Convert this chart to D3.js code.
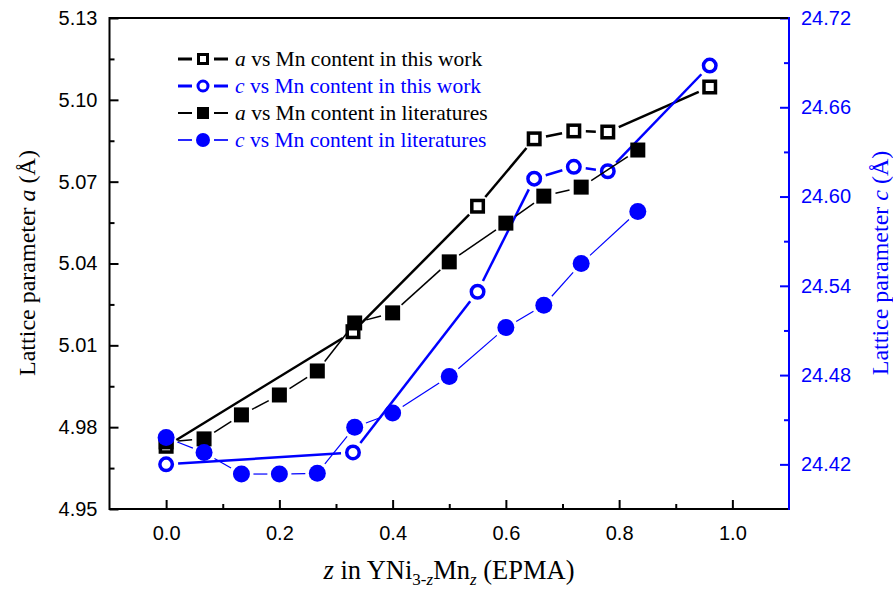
<!DOCTYPE html>
<html><head><meta charset="utf-8">
<script src="https://cdn.jsdelivr.net/npm/d3@7"></script>
<style>body{margin:0;background:#fff}svg{display:block}</style>
</head><body>
<script>
// ---- data ----
const zWork = [0, 0.33, 0.55, 0.65, 0.72, 0.78, 0.96];
const aWork = [4.973, 5.015, 5.061, 5.0857, 5.0886, 5.0882, 5.1047];
const cWork = [24.420, 24.428, 24.536, 24.612, 24.620, 24.617, 24.688];
const zLit = [0, 0.067, 0.133, 0.2, 0.267, 0.333, 0.4, 0.5, 0.6, 0.667, 0.733, 0.833];
const aLit = [4.9746, 4.9757, 4.9845, 4.9918, 5.0006, 5.0182, 5.0219, 5.0406, 5.0548, 5.0647, 5.068, 5.0816];
const cLit = [24.438, 24.428, 24.4135, 24.4135, 24.414, 24.445, 24.4545, 24.479, 24.512, 24.527, 24.555, 24.590];
const xTicks = [0.0, 0.2, 0.4, 0.6, 0.8, 1.0];
const xMinor = [0.1, 0.3, 0.5, 0.7, 0.9];
const aTicks = [4.95, 4.98, 5.01, 5.04, 5.07, 5.10, 5.13];
const aMinor = [4.965, 4.995, 5.025, 5.055, 5.085, 5.115];
const cTicks = [24.42, 24.48, 24.54, 24.60, 24.66, 24.72];
const cMinor = [24.45, 24.51, 24.57, 24.63, 24.69];
const legendLabels = ["vs Mn content in this work", "vs Mn content in this work", "vs Mn content in literatures", "vs Mn content in literatures"];
const legendVars = ["a", "c", "a", "c"];

const W = 893, H = 591;
const L = 109.5, R = 789, T = 18, B = 509;
const BLUE = "#0000ff";
const svg = d3.select("body").append("svg").attr("width", W).attr("height", H);

const x = d3.scaleLinear().domain([-0.1, 1.1]).range([L, R]);
const ya = d3.scaleLinear().domain([4.95, 5.13]).range([B, T]);
const yc = d3.scaleLinear().domain([24.39, 24.72]).range([B, T]);

function styleAxis(g, color, fontSize) {
  g.select(".domain").remove();
  g.selectAll(".tick line").attr("stroke", color).attr("stroke-width", 2);
  g.selectAll(".tick text").attr("fill", color).attr("font-family", "Liberation Sans, Arial, sans-serif").attr("font-size", fontSize);
}
function minorAxis(g, color) {
  g.select(".domain").remove();
  g.selectAll("line").attr("stroke", color).attr("stroke-width", 2);
}
// bottom axis
const xAxisG = svg.append("g").attr("transform", `translate(0,${B})`)
  .call(d3.axisBottom(x).tickValues(xTicks).tickFormat(d3.format(".1f")).tickSizeInner(-9).tickSizeOuter(0).tickPadding(17));
styleAxis(xAxisG, "#000", "20px");
svg.append("g").attr("transform", `translate(0,${B})`)
  .call(d3.axisBottom(x).tickValues(xMinor).tickFormat("").tickSizeInner(-5).tickSizeOuter(0))
  .call(g => minorAxis(g, "#000"));

// left axis
const aAxisG = svg.append("g").attr("transform", `translate(${L},0)`)
  .call(d3.axisLeft(ya).tickValues(aTicks).tickFormat(d3.format(".2f")).tickSizeInner(-9).tickSizeOuter(0).tickPadding(12));
styleAxis(aAxisG, "#000", "20px");
svg.append("g").attr("transform", `translate(${L},0)`)
  .call(d3.axisLeft(ya).tickValues(aMinor).tickFormat("").tickSizeInner(-5).tickSizeOuter(0))
  .call(g => minorAxis(g, "#000"));

// right axis
const cAxisG = svg.append("g").attr("transform", `translate(${R},0)`)
  .call(d3.axisRight(yc).tickValues(cTicks).tickFormat(d3.format(".2f")).tickSizeInner(-9).tickSizeOuter(0).tickPadding(12));
styleAxis(cAxisG, BLUE, "20px");
svg.append("g").attr("transform", `translate(${R},0)`)
  .call(d3.axisRight(yc).tickValues(cMinor).tickFormat("").tickSizeInner(-5).tickSizeOuter(0))
  .call(g => minorAxis(g, BLUE));

// frame lines
svg.append("line").attr("x1", L).attr("x2", R).attr("y1", T).attr("y2", T).attr("stroke", "#000").attr("stroke-width", 2);
svg.append("line").attr("x1", L).attr("x2", R).attr("y1", B).attr("y2", B).attr("stroke", "#000").attr("stroke-width", 2);
svg.append("line").attr("x1", L).attr("x2", L).attr("y1", T - 1).attr("y2", B + 1).attr("stroke", "#000").attr("stroke-width", 2);
svg.append("line").attr("x1", R).attr("x2", R).attr("y1", T - 1).attr("y2", B + 1).attr("stroke", BLUE).attr("stroke-width", 2);

function gappedLine(pts, color, width, gap) {
  const g = svg.append("g");
  for (let i = 0; i < pts.length - 1; i++) {
    const [x1, y1] = pts[i], [x2, y2] = pts[i + 1];
    const dx = x2 - x1, dy = y2 - y1, len = Math.hypot(dx, dy);
    if (len <= 2 * gap) continue;
    const ux = dx / len, uy = dy / len;
    g.append("line").attr("x1", x1 + ux * gap).attr("y1", y1 + uy * gap)
      .attr("x2", x2 - ux * gap).attr("y2", y2 - uy * gap)
      .attr("stroke", color).attr("stroke-width", width);
  }
}
function square(g, cx, cy, s, filled, color, sw) {
  const inner = filled ? s : s - sw;
  g.append("rect").attr("x", cx - inner / 2).attr("y", cy - inner / 2).attr("width", inner).attr("height", inner)
    .attr("fill", filled ? color : "#fff").attr("stroke", filled ? "none" : color).attr("stroke-width", filled ? 0 : sw);
}
function circle(g, cx, cy, d, filled, color, sw) {
  const r = filled ? d / 2 : (d - sw) / 2;
  g.append("circle").attr("cx", cx).attr("cy", cy).attr("r", r)
    .attr("fill", filled ? color : "#fff").attr("stroke", filled ? "none" : color).attr("stroke-width", filled ? 0 : sw);
}

const pAW = zWork.map((z, i) => [x(z), ya(aWork[i])]);
const pCW = zWork.map((z, i) => [x(z), yc(cWork[i])]);
const pAL = zLit.map((z, i) => [x(z), ya(aLit[i])]);
const pCL = zLit.map((z, i) => [x(z), yc(cLit[i])]);

gappedLine(pAW, "#000", 2.5, 12);
const g1 = svg.append("g");
pAW.forEach(p => square(g1, p[0], p[1], 15, false, "#000", 3.5));
gappedLine(pCW, BLUE, 2.5, 12);
const g2 = svg.append("g");
pCW.forEach(p => circle(g2, p[0], p[1], 16, false, BLUE, 3.5));
gappedLine(pAL, "#000", 1.5, 12);
const g3 = svg.append("g");
pAL.forEach(p => square(g3, p[0], p[1], 15, true, "#000", 0));
gappedLine(pCL, BLUE, 1.2, 12);
const g4 = svg.append("g");
pCL.forEach(p => circle(g4, p[0], p[1], 17, true, BLUE, 0));

// legend
const legY = [59, 86, 113, 140];
const legColors = ["#000", BLUE, "#000", BLUE];
const legW = [2.5, 2.5, 1.5, 1.2];
const lg = svg.append("g");
legY.forEach((yy, i) => {
  const c = legColors[i];
  lg.append("line").attr("x1", 178).attr("x2", 192).attr("y1", yy).attr("y2", yy).attr("stroke", c).attr("stroke-width", legW[i] + 0.5);
  lg.append("line").attr("x1", 214).attr("x2", 228).attr("y1", yy).attr("y2", yy).attr("stroke", c).attr("stroke-width", legW[i] + 0.5);
  if (i === 0) square(lg, 203, yy, 12, false, c, 3);
  if (i === 1) circle(lg, 203, yy, 13, false, c, 3);
  if (i === 2) square(lg, 203, yy, 12, true, c, 0);
  if (i === 3) circle(lg, 203, yy, 14, true, c, 0);
  const t = lg.append("text").attr("x", 235).attr("y", yy + 7).attr("fill", c)
    .attr("font-family", "Liberation Serif, Times New Roman, serif").attr("font-size", "21.5px");
  t.append("tspan").attr("font-style", "italic").text(legendVars[i]);
  t.append("tspan").text(" " + legendLabels[i]);
});

// axis titles
const serif = "Liberation Serif, Times New Roman, serif";
const lt = svg.append("text").attr("transform", "translate(35,263) rotate(-90)").attr("text-anchor", "middle")
  .attr("font-family", serif).attr("font-size", "24px").attr("fill", "#000");
lt.append("tspan").text("Lattice parameter ");
lt.append("tspan").attr("font-style", "italic").text("a");
lt.append("tspan").text(" (Å)");

const rt = svg.append("text").attr("transform", "translate(888,263) rotate(-90)").attr("text-anchor", "middle")
  .attr("font-family", serif).attr("font-size", "24px").attr("fill", BLUE);
rt.append("tspan").text("Lattice parameter ");
rt.append("tspan").attr("font-style", "italic").text("c");
rt.append("tspan").text(" (Å)");

const xt = svg.append("text").attr("x", 449).attr("y", 579).attr("text-anchor", "middle")
  .attr("font-family", serif).attr("font-size", "26.5px").attr("fill", "#000");
xt.append("tspan").attr("font-style", "italic").text("z");
xt.append("tspan").text(" in YNi");
xt.append("tspan").attr("font-size", "17px").attr("dy", 6).text("3-");
xt.append("tspan").attr("font-size", "17px").attr("font-style", "italic").text("z");
xt.append("tspan").attr("dy", -6).text("Mn");
xt.append("tspan").attr("font-size", "17px").attr("font-style", "italic").attr("dy", 6).text("z");
xt.append("tspan").attr("dy", -6).text(" (EPMA)");
</script>
</body></html>
